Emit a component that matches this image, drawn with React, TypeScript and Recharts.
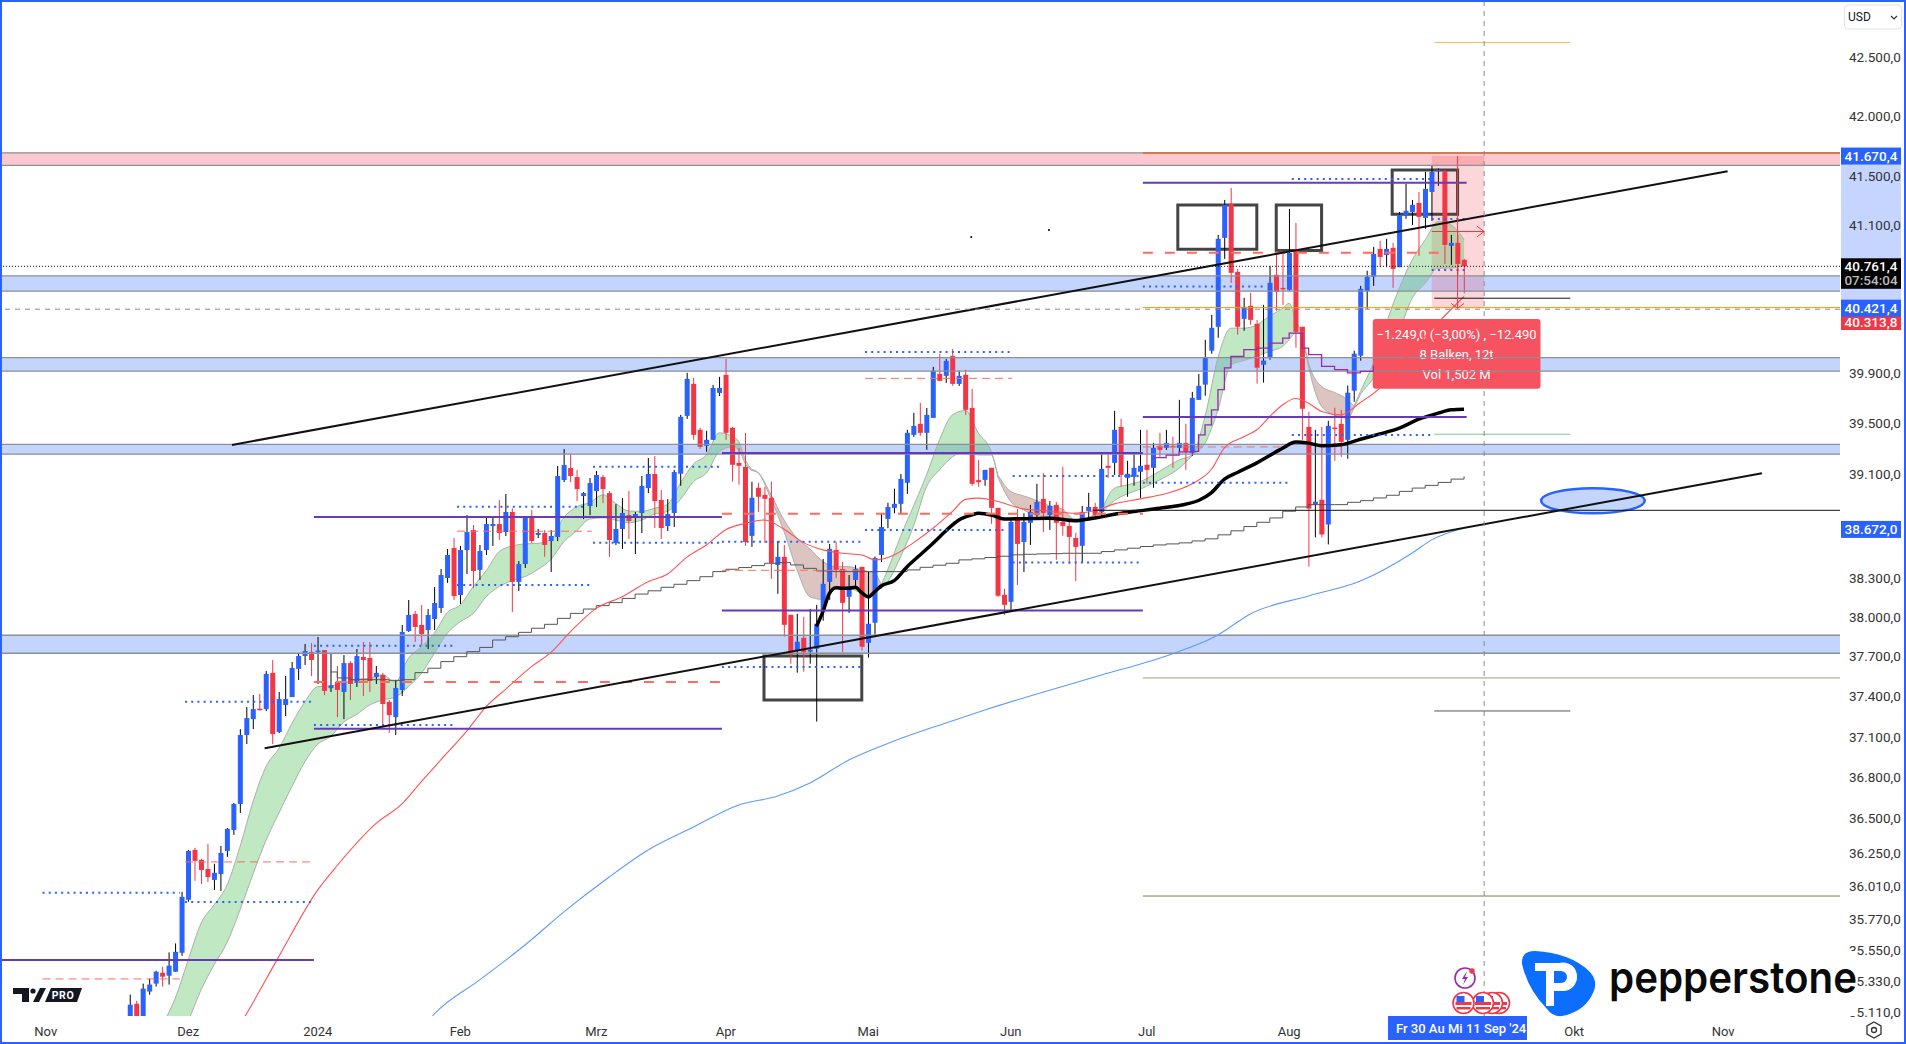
import React from 'react';
import {
  ComposedChart, XAxis, YAxis, Bar, Line, Area, ReferenceLine, ReferenceArea, ReferenceDot,
} from 'recharts';

// ---- candles (index 0 .. 206, daily bars) ----
const opens = [34920,35172,35060,35258,35314,35391,35370,35398,35532,35911,36271,36199,36133,36054,36096,36264,36416,36606,37114,37232,37310,37307,37578,37136,37337,37397,37608,37705,37736,37738,37750,37463,37510,37435,37652,37503,37698,37690,37547,37563,37360,37247,37450,37894,38023,37940,37902,37985,38069,38298,38528,38168,38513,38667,38360,38513,38698,38714,38652,38807,38268,38405,38768,38629,38644,38582,38613,39056,39150,39079,38931,38853,38970,39079,38954,38567,38675,38783,38760,38799,38993,39103,38900,38698,38799,39105,39560,39814,39450,39324,39371,39742,39886,39466,39190,39159,38622,38995,38940,38917,38398,38460,38017,37745,37843,37738,37760,38055,38268,38514,38367,38154,38283,38383,37805,37957,38475,38753,38839,38870,39034,39410,39497,39426,39544,39894,39878,40038,39814,39886,39623,39055,39057,39151,38839,38169,38116,38745,38575,38723,38784,38909,38784,38862,38730,38699,38606,38545,38815,38846,38808,39167,39190,39473,39073,39081,39120,39175,39151,39324,39308,39324,39308,39347,39268,39687,39808,40079,40271,40994,41274,40716,40335,40440,40295,39967,40023,40692,40586,40570,40903,40271,39473,38864,38902,38710,39468,39497,39371,39760,40039,40562,40676,40903,40854,40912,40754,41175,41207,41281,41158,41372,41546,41546,40928,40953,40814];
const closes = [35165,34950,35279,35307,35398,35363,35441,35539,35932,36264,36192,36126,36074,36105,36249,36424,36606,37114,37240,37307,37300,37570,37121,37382,37382,37615,37705,37743,37675,37746,37443,37485,37450,37652,37495,37705,37675,37517,37578,37345,37262,37465,37887,38016,37925,37871,38016,38107,38321,38475,38160,38513,38652,38352,38505,38714,38714,38644,38807,38268,38405,38760,38582,38644,38552,38621,39087,39173,39087,38985,38954,39032,39095,38985,38590,38675,38799,38737,38791,39009,39103,38892,38683,38791,39118,39552,39854,39410,39316,39371,39782,39782,39426,39175,39167,38575,38917,38925,38909,38414,38460,37941,37715,37813,37733,37753,37949,38253,38522,38360,38108,38237,38367,37775,37949,38452,38691,38846,38870,39065,39426,39481,39426,39568,39918,39838,39998,39814,39878,39608,39026,39039,39135,38839,38162,38093,38730,38560,38730,38808,38885,38800,38854,38723,38699,38614,38537,38808,38846,38784,39143,39151,39450,39096,39104,39151,39167,39135,39308,39292,39347,39316,39347,39277,39703,39798,40023,40263,40986,41265,40708,40271,40432,40327,39943,40000,40627,40554,40578,40870,40231,39616,38833,38887,38633,39481,39460,39355,39744,40055,40578,40676,40862,40838,40903,40740,41183,41216,41265,41166,41397,41538,41555,40936,40953,40781,40761];
const highs = [35236,35193,35314,35349,35405,35433,35535,35599,35968,36271,36286,36206,36315,36170,36300,36431,36613,37158,37322,37412,37420,37593,37675,37435,37555,37660,37728,37796,37803,37849,37750,37720,37630,37712,37667,37758,37811,37811,37630,37578,37375,37525,37940,38130,38046,38092,38061,38229,38367,38521,38605,38544,38783,38706,38552,38768,38760,38900,38947,38835,38428,38776,38822,38675,38667,38667,39165,39299,39260,39134,38962,39071,39126,39095,38970,38868,38915,38970,38807,39087,39228,39244,38978,38907,39134,39568,39902,39862,39466,39442,39806,39870,40014,39473,39308,39426,39042,39034,39003,39042,38583,38552,38017,38025,38002,38062,38093,38444,38560,38575,38421,38321,38398,38385,38344,38462,38792,38878,38988,39104,39450,39584,39663,39623,39950,40054,40014,40094,39918,39926,39774,39213,39135,39151,38839,38215,38745,38831,38797,38862,39026,39112,38893,38885,39159,38738,38645,38854,38956,38878,39268,39268,39600,39537,39206,39268,39450,39450,39347,39426,39450,39395,39687,39497,39750,39894,40167,40367,41018,41306,41405,40740,40505,40546,40327,40448,40765,40887,40862,41232,41117,40271,39592,39450,39473,39521,39624,39608,39800,40079,40602,40725,40920,40969,40986,40953,41207,41439,41306,41372,41538,41596,41566,41555,41018,41018,40822];
const lows = [34900,34920,35040,35236,35293,35293,35307,35398,35511,35897,36047,36025,36039,35982,35975,36220,36380,36540,37047,37158,37295,37292,37047,37129,37255,37397,37525,37638,37555,37495,37412,37435,37247,37232,37375,37472,37405,37435,37495,37195,37129,37114,37405,37887,37811,37788,37758,37902,38031,38260,38130,38099,38329,38222,38283,38475,38544,38590,38621,38038,38199,38375,38567,38605,38460,38344,38582,39040,39040,38892,38752,38783,38845,38876,38460,38552,38521,38598,38482,38644,38954,38683,38598,38660,38691,39011,39537,39371,39300,39277,39371,39718,39371,39042,39019,38545,38537,38808,38568,38291,38177,37851,37647,37580,37587,37647,37214,37972,38131,38298,37733,38032,38219,37745,37693,37866,38421,38681,38797,38797,38948,39395,39403,39292,39544,39838,39822,39798,39798,39568,39011,39003,39011,38715,38154,38017,38047,38245,38344,38552,38745,38652,38668,38437,38622,38406,38275,38421,38745,38776,38776,39070,39096,39003,38925,39011,38917,39026,38995,39237,39292,39151,39277,39135,39245,39687,39720,40055,40183,40822,40627,40207,40239,40287,39816,39824,40007,40400,40448,40562,40103,39371,38386,38610,38610,38556,39206,39237,39222,39672,39999,40416,40602,40757,40754,40586,40754,41150,41100,40846,41068,41133,41422,40781,40773,40692,40543];

// ---- moving averages, read at sampled bars ----
const redIdx = [15,18,23,29,32,38,42,45,48,52,55,58,62,65,68,72,76,80,83,86,89,92,95,98,101,104,107,110,113,115,118,121,124,127,129,131,134,138,142,146,149,152,156,160,164,167,169,172,174,176,178,180,182,184,187,190,193,196,200,206];
const redVal = [34880,35102,35507,35982,36158,36464,36606,36770,36930,37143,37325,37455,37625,37733,37888,38066,38155,38270,38329,38458,38552,38670,38719,38745,38673,38570,38514,38488,38475,38437,38475,38570,38681,38811,38905,38915,38888,38831,38815,38797,38818,38870,38909,38950,39026,39140,39308,39395,39450,39555,39648,39698,39660,39595,39568,39666,39781,39954,40194,40516];
const greyIdx = [31,32,34,36,38,40,42,44,46,48,50,52,54,56,58,60,62,64,66,68,70,72,74,76,78,80,82,84,86,88,90,92,94,96,98,100,102,104,106,108,110,112,114,116,118,120,122,124,126,128,130,132,134,136,138,140,142,144,146,148,150,152,154,156,158,160,162,164,166,168,170,172,174,176,178,180,182,184,186,188,190,192,194,196,198,200,202,204,206];
const greyVal = [37585,37540,37527,37527,37527,37522,37527,37580,37613,37663,37700,37738,37770,37826,37851,37884,37915,37945,37990,38028,38061,38087,38110,38142,38175,38200,38227,38250,38278,38308,38347,38365,38378,38393,38411,38416,38398,38372,38352,38347,38347,38347,38347,38347,38347,38360,38380,38396,38411,38437,38445,38455,38465,38476,38480,38483,38485,38488,38488,38488,38501,38514,38527,38540,38552,38560,38568,38583,38599,38630,38661,38694,38727,38761,38813,38846,38864,38864,38864,38882,38895,38916,38937,38967,38993,39014,39037,39063,39085];
const blueIdx = [40,47,54,61,67,74,80,87,94,100,105,111,118,126,132,139,150,160,168,173,182,190,198,201,206];
const blueVal = [34640,35100,35340,35588,35824,36075,36270,36437,36598,36664,36760,36929,37070,37204,37300,37405,37562,37706,37864,38024,38161,38275,38490,38591,38683];
const blackIdx = [106,107,108,109,110,111,112,113,114,115,116,118,120,122,124,126,128,130,131,133,135,138,142,146,149,152,155,159,163,165,167,169,171,174,176,178,180,182,184,187,190,193,196,199,202,204,206];
const blackVal = [37929,38042,38180,38224,38219,38219,38227,38185,38154,38193,38237,38278,38385,38475,38565,38662,38745,38784,38797,38784,38753,38755,38758,38740,38760,38789,38810,38836,38867,38896,38958,39063,39115,39190,39248,39306,39353,39345,39324,39332,39376,39418,39463,39534,39582,39608,39613];
const purpleIdx = [158,160,162,164,165,166,167,168,169,170,172,174,176,178,179,180,181,182,184,186,188,190,192];
const purpleVal = [39231,39250,39277,39280,39410,39489,39608,39768,39941,40034,40087,40100,40140,40180,40220,40220,40100,40047,39954,39928,39901,39914,39960];

// ---- ribbon ----
const ribbonIdx = [5,7,9,11,13,15,17,19,21,23,25,27,29,31,33,35,37,39,41,43,45,47,49,51,53,55,57,59,61,63,65,67,69,71,73,75,77,79,81,83,85,87,89,91,93,94,95,96,97,99,101,103,105,107,109,111,113,114,115,116,117,119,121,123,125,127,129,131,133,134,136,138,140,142,144,146,148,150,152,154,156,158,160,162,164,166,168,170,172,174,176,178,179,180,181,182,184,186,188,189,190,192,194,196,198,200,202,204,206];
const ribbonHi = [35025,35212,35483,35745,35875,36018,36296,36622,36880,37015,37200,37360,37475,37480,37500,37530,37537,37563,37510,37688,37775,37877,38035,38092,38232,38354,38500,38544,38560,38565,38595,38765,38848,38880,38940,38874,38815,38812,38835,38866,39032,39180,39252,39426,39397,39358,39215,39140,39115,38940,38745,38604,38520,38424,38385,38385,38360,38347,38334,38245,38360,38619,38854,39096,39371,39568,39603,39425,39277,39096,38966,38932,38896,38854,38828,38745,38766,38810,38991,39018,39044,39096,39156,39213,39252,39555,40023,40260,40260,40287,40359,40420,40461,40327,40220,39981,39794,39746,39688,39635,39754,39981,40300,40584,40814,40977,41128,41100,40980];
const ribbonLo = [34590,34850,35050,35272,35448,35606,35840,36096,36340,36540,36733,36915,37047,37104,37210,37267,37337,37375,37397,37475,37575,37725,37877,37965,38028,38155,38232,38278,38309,38364,38441,38577,38662,38752,38762,38744,38724,38744,38791,38812,38905,39043,39110,39277,39316,39292,39185,39130,39110,38905,38655,38360,38154,38134,38219,38219,38177,38154,38205,38219,38270,38462,38700,39003,39135,39237,39277,39252,39252,39078,38888,38823,38779,38771,38763,38725,38750,38797,38895,38948,38984,39032,39083,39148,39245,39344,39608,39967,40000,40034,40074,40114,40167,40220,40215,39950,39635,39568,39542,39622,39728,39861,40087,40247,40503,40624,40746,40746,40773];
const ribbonBreaks = [96,116,134,150,181,189];

// ---- levels (bar index range and price) ----
const zoneLow = [40559,39915,39258,37726];
const zoneHigh = [40683,40023,39336,37862];
const solidPurple = [[-20.07,28.4,35481],[28.4,91.4,37161],[28.4,91.4,38769],[91.4,156.4,38049],[91.4,156.4,39268],[156.4,206.4,39552],[156.4,206.4,41449]];
const dottedBlue = [[-13.5,7.7,35962],[8.5,28.4,35895],[8.5,28.4,37362],[28.4,49.8,37783],[28.4,49.8,37188],[50.5,70.2,38848],[50.5,71.3,38245],[71.5,91.3,39160],[71.5,91.3,38568],[91.4,113,38577],[91.4,113,37622],[113.5,136.2,40069],[113.5,135.2,38668],[136.3,156.4,39087],[136.3,156.4,38416],[156.4,179,39035],[156.4,175.4,40596],[179.4,201,39409],[179.4,201,41480],[201,206.4,41149],[201,206.4,40732]];
const thinRed = [[-13.5,7.7,35347],[8.5,28.4,36184],[50.5,71.3,38658],[91.4,113,38357],[113.5,136.2,39858],[156.4,178,39315]];
const thickRed = [[28.4,91.4,37510],[91.4,156.4,38794],[156.4,203,40872]];
const fibLines = [[201.4,222.4,42628,'#ffb74d'],[201.4,222.4,40502,'#111111'],[201.4,222.4,39415,'#81c784'],[201.4,222.4,37293,'#555555'],[156.4,264.05,37540,'#9a9f7a'],[156.4,264.05,35938,'#7c8046'],[148.7,264.05,38820,'#111111'],[156.4,264.05,40426,'#ff9800'],[156.4,264.05,41695,'#e65100']];
const trendLines = [[15.75,39331,246.7,41543],[20.8,37016,252,39109]];
const boxes = [[97.9,113,37375,37706],[161.8,174,40900,41265],[177,184,40890,41265],[194.9,205,41188,41554]];

// ---- axes ----
const xTicks = [-13,9,29,51,72,92,114,136,157,179,223,246];
const xLabels = ['Nov','Dez','2024','Feb','Mrz','Apr','Mai','Jun','Jul','Aug','Okt','Nov'];
const yTicks = [42500,42000,41500,41100,39900,39500,39100,38300,38000,37700,37400,37100,36800,36500,36250,36010,35770,35550,35330,35110];
const tooltipLines = ['−1.249,0 (−3,00%) , −12.490','8 Balken, 12t','Vol 1,502 M'];

const rows: any[] = opens.map((o, i) => ({ i, o, c: closes[i], h: highs[i], l: lows[i], range: [lows[i], highs[i]] }));
const put = (key: string, idx: number[], vals: number[]) => idx.forEach((ix, k) => { rows[ix][key] = vals[k]; });
put('red', redIdx, redVal);
put('grey', greyIdx, greyVal);
put('blue', blueIdx, blueVal);
put('black', blackIdx, blackVal);
put('purple', purpleIdx, purpleVal);
const edges = [5, ...ribbonBreaks, 206];
ribbonIdx.forEach((ix, k) => {
  edges.slice(0, -1).forEach((e, seg) => {
    if (ix >= e && ix <= edges[seg + 1]) rows[ix]['rib' + seg] = [ribbonLo[k], ribbonHi[k]];
  });
});

const fmt = (v: number) => v.toLocaleString('de-DE', { minimumFractionDigits: 1, maximumFractionDigits: 1 });
const FONT = 'Roboto, sans-serif';

const Candle = (props: any) => {
  const { x, y, width, height, payload } = props;
  const top = Math.min(y, y + height);
  const span = Math.abs(height);
  const at = (p: number) => top + (span * (Math.log(payload.h) - Math.log(p))) / (Math.log(payload.h) - Math.log(payload.l));
  const up = payload.c >= payload.o;
  const bodyTop = at(Math.max(payload.o, payload.c));
  const bodyBot = at(Math.min(payload.o, payload.c));
  const cx = x + width / 2;
  return (
    <g>
      <line x1={cx} x2={cx} y1={top} y2={top + span} stroke={up ? '#000' : '#f23645'} strokeWidth={1} />
      <rect x={x} y={bodyTop} width={width} height={Math.max(bodyBot - bodyTop, 1.5)} fill={up ? '#2962ff' : '#f23645'} />
    </g>
  );
};

const tag = (text: string, bg: string, sub?: string) => (props: any) => {
  const vb = props.viewBox;
  const x = vb.x + vb.width + 1;
  const y = vb.y;
  return (
    <g>
      <rect x={x} y={sub ? y - 8 : y - 8.5} width={60} height={sub ? 30.5 : 17} fill={bg} />
      <text x={x + 30} y={y + 5} textAnchor="middle" fontFamily={FONT} fontSize={13.5} fontWeight={500} fill="#fff">{text}</text>
      {sub && <text x={x + 30} y={y + 19} textAnchor="middle" fontFamily={FONT} fontSize={13.5} fontWeight={500} fill="#bbb">{sub}</text>}
    </g>
  );
};

const AxisBand = (props: any) => (
  <rect x={props.x + props.width + 1} y={props.y} width={60} height={props.height} fill="rgba(41,98,255,0.27)" />
);
const Ellipse = (props: any) => (
  <ellipse cx={props.x + props.width / 2} cy={props.y + props.height / 2} rx={props.width / 2} ry={props.height / 2} fill="#c4d5fd" stroke="#2962ff" strokeWidth={2.5} />
);
const TooltipBox = (props: any) => (
  <g>
    <rect x={props.x} y={props.y} width={props.width} height={props.height} rx={3} fill="#f7525f" />
    {tooltipLines.map((t, k) => (
      <text key={k} x={props.x + props.width / 2} y={props.y + 20 + k * 20} textAnchor="middle" fontFamily={FONT} fontSize={13} fill="#fff">{t}</text>
    ))}
  </g>
);

const seg = (a: number, b: number, y: number) => [{ x: a, y }, { x: b, y }] as any;

export default function App() {
  return (
    <div style={{ position: 'absolute', left: 0, top: 0, width: 1906, height: 1044, background: '#fff', overflow: 'hidden' }}>
      <ComposedChart width={1906} height={1044} data={rows} margin={{ top: 0, right: 0, bottom: 0, left: 0 }}>
        <XAxis dataKey="i" type="number" domain={[-20.07, 264.05]} ticks={xTicks} interval={0} height={28}
          axisLine={false} tickLine={false} tickMargin={5}
          tick={{ fontFamily: FONT, fontSize: 13, fill: '#333' }}
          tickFormatter={(v: number) => xLabels[xTicks.indexOf(v)]} />
        <YAxis orientation="right" scale="log" type="number" domain={[35086, 42991]} allowDataOverflow ticks={yTicks} interval={0} width={66}
          axisLine={false} tickLine={false} tickMargin={3}
          tick={{ fontFamily: FONT, fontSize: 13.5, fill: '#333' }} tickFormatter={fmt} />

        <ReferenceArea y1={41592} y2={41697} fill="#fdc9ce" fillOpacity={1} stroke="none" />
        {zoneLow.map((lo, k) => (
          <ReferenceArea key={'z' + k} y1={lo} y2={zoneHigh[k]} fill="#c4d5fd" fillOpacity={1} stroke="none" />
        ))}
        {[41592, 41697, ...zoneLow, ...zoneHigh].map((y) => (
          <ReferenceLine key={'zl' + y} y={y} stroke="#8a8f98" strokeWidth={1.3} />
        ))}
        <ReferenceArea x1={201} x2={209.1} y1={40421} y2={41670} fill="#f23645" fillOpacity={0.2} stroke="none" />
        <ReferenceArea x1={217.9} x2={233.9} y1={38797} y2={38992} shape={Ellipse} />

        {edges.slice(0, -1).map((_, k) => (
          <Area key={'rib' + k} type="monotone" dataKey={'rib' + k} connectNulls isAnimationActive={false} dot={false} activeDot={false} legendType="none"
            fill={k % 2 === 0 ? '#4fc05a' : '#8c3a30'} fillOpacity={k % 2 === 0 ? 0.36 : 0.3} stroke="#a9b0a9" strokeWidth={1} />
        ))}
        <Line dataKey="blue" type="monotone" connectNulls dot={false} activeDot={false} isAnimationActive={false} stroke="#5b9cf6" strokeWidth={1.1} />
        <Line dataKey="grey" type="stepAfter" connectNulls dot={false} activeDot={false} isAnimationActive={false} stroke="#555" strokeWidth={1} />
        <Line dataKey="red" type="monotone" connectNulls dot={false} activeDot={false} isAnimationActive={false} stroke="#ff5252" strokeWidth={1.1} />
        <Line dataKey="purple" type="stepAfter" connectNulls dot={false} activeDot={false} isAnimationActive={false} stroke="#9c27b0" strokeWidth={1.3} />
        <Line dataKey="black" type="monotone" connectNulls dot={false} activeDot={false} isAnimationActive={false} stroke="#000" strokeWidth={3.5} />

        <Bar dataKey="range" barSize={5} isAnimationActive={false} shape={Candle} />

        {solidPurple.map(([a, b, y], k) => <ReferenceLine key={'p' + k} segment={seg(a, b, y)} stroke="#673ab7" strokeWidth={2} />)}
        {dottedBlue.map(([a, b, y], k) => <ReferenceLine key={'d' + k} segment={seg(a, b, y)} stroke="#2962ff" strokeWidth={2} strokeDasharray="2 4.2" />)}
        {thinRed.map(([a, b, y], k) => <ReferenceLine key={'r' + k} segment={seg(a, b, y)} stroke="#ff6b5e" strokeWidth={1} strokeDasharray="8 5" />)}
        {thickRed.map(([a, b, y], k) => <ReferenceLine key={'t' + k} segment={seg(a, b, y)} stroke="#ff6b5e" strokeWidth={2} strokeDasharray="10 12" />)}
        {fibLines.map(([a, b, y, c]: any, k) => <ReferenceLine key={'f' + k} segment={seg(a, b, y)} stroke={c} strokeWidth={1} />)}
        {trendLines.map(([a, y1, b, y2], k) => (
          <ReferenceLine key={'tr' + k} segment={[{ x: a, y: y1 }, { x: b, y: y2 }]} stroke="#111" strokeWidth={2} />
        ))}
        {boxes.map(([a, b, lo, hi], k) => (
          <ReferenceArea key={'b' + k} x1={a} x2={b} y1={lo} y2={hi} fill="none" stroke="#444" strokeWidth={3} />
        ))}
        <ReferenceDot x={129.9} y={41001} r={1} fill="#000" stroke="none" />
        <ReferenceDot x={141.9} y={41059} r={1} fill="#000" stroke="none" />

        <ReferenceLine x={209.1} stroke="#8a8a8a" strokeWidth={1} strokeDasharray="5 5" />
        <ReferenceLine y={40413} stroke="#8a8a8a" strokeWidth={1} strokeDasharray="5 5" />
        <ReferenceLine y={40761} stroke="#111" strokeWidth={1} strokeDasharray="1 2" />

        <ReferenceLine segment={[{ x: 205, y: 41670 }, { x: 205, y: 40421 }]} stroke="#f23645" strokeWidth={1} />
        <ReferenceLine segment={[{ x: 204, y: 40460 }, { x: 205, y: 40421 }]} stroke="#f23645" strokeWidth={1} />
        <ReferenceLine segment={[{ x: 206, y: 40460 }, { x: 205, y: 40421 }]} stroke="#f23645" strokeWidth={1} />
        <ReferenceLine segment={[{ x: 201, y: 41046 }, { x: 209.1, y: 41046 }]} stroke="#f23645" strokeWidth={1} />
        <ReferenceLine segment={[{ x: 208, y: 41090 }, { x: 209.1, y: 41046 }]} stroke="#f23645" strokeWidth={1} />
        <ReferenceLine segment={[{ x: 208, y: 41002 }, { x: 209.1, y: 41046 }]} stroke="#f23645" strokeWidth={1} />

        <ReferenceArea x1={191.9} x2={217.8} y1={39776} y2={40334} shape={TooltipBox} />

        <ReferenceArea y1={40480} y2={41660} shape={AxisBand} />
        <ReferenceLine y={41670} stroke="none" label={tag('41.670,4', '#2962ff')} />
        <ReferenceLine y={40313.8} stroke="none" label={tag('40.313,8', '#f23645')} />
        <ReferenceLine y={40421.4} stroke="none" label={tag('40.421,4', '#2962ff')} />
        <ReferenceLine y={40761.4} stroke="none" label={tag('40.761,4', '#000', '07:54:04')} />
        <ReferenceLine y={38672} stroke="none" label={tag('38.672,0', '#2962ff')} />
      </ComposedChart>

      <svg width={1906} height={1044} style={{ position: 'absolute', left: 0, top: 0, pointerEvents: 'none' }}>
        {/* hovered date tags */}
        <rect x={1388} y={1016} width={139} height={24} fill="#2962ff" />
        <text x={1396} y={1033} fontFamily={FONT} fontSize={13} fontWeight={500} fill="#fff">Fr 30 Au</text>
        <text x={1448} y={1033} fontFamily={FONT} fontSize={13} fontWeight={500} fill="#fff">Mi 11 Sep '24</text>
        {/* settings */}
        <path d="M1874 1022l7 4v8l-7 4-7-4v-8z" fill="none" stroke="#333" strokeWidth={1.3} />
        <circle cx={1874} cy={1030} r={2.5} fill="none" stroke="#333" strokeWidth={1.3} />
        {/* USD */}
        <rect x={1844.5} y={5} width={57} height={24} rx={4} fill="#fff" stroke="#e0e3eb" />
        <text x={1848} y={21} fontFamily={FONT} fontSize={12} fill="#131722">USD</text>
        <path d="M1891 16l3 3 3-3" fill="none" stroke="#333" strokeWidth={1.2} />
        {/* TV PRO */}
        <path d="M13 988h16v14h-7v-8h-9z" fill="#131722" />
        <circle cx={33} cy={991} r={2.6} fill="#131722" />
        <path d="M40 988h6l-7 14h-6z" fill="#131722" />
        <path d="M51 988h31l-5 14h-32z" fill="#131722" />
        <text x={63} y={999} textAnchor="middle" fontFamily={FONT} fontSize={10.5} fontWeight={700} fill="#fff" letterSpacing={0.6}>PRO</text>
        {/* events */}
        <circle cx={1465} cy={978} r={10} fill="#fff" stroke="#9c27b0" strokeWidth={1.6} />
        <path d="M1467 971l-5 8h3l-2 6 5-8h-3z" fill="#9c27b0" />
        <circle cx={1472} cy={971} r={2.7} fill="#f23645" />
        {[1499, 1492, 1483, 1463.5].map((cx) => (
          <g key={cx}>
            <circle cx={cx} cy={1003} r={10.5} fill="#fff" stroke="#f23645" strokeWidth={1.6} />
            <rect x={cx - 8} y={1002} width={16} height={3} fill="#f23645" />
            <rect x={cx - 7} y={1007} width={14} height={2.4} fill="#f23645" />
            <rect x={cx - 7} y={996} width={8} height={6} fill="#2962ff" />
          </g>
        ))}
        {/* pepperstone */}
        <rect x={1600} y={951} width={257} height={65} fill="#fff" />
        <path d="M1522 964Q1521 951 1535 951Q1570 953 1589 971Q1599 981 1593 993Q1586 1009 1567 1015Q1554 1019 1547 1009Q1528 990 1522 964Z" fill="#0c6eff" />
        <path d="M1535 963h24a14 14 0 0 1 18 14a14 14 0 0 1 -14 14h-9v15h-8v-35h-11z" fill="#fff" />
        <path d="M1554 971h7a6 6 0 0 1 0 12h-7z" fill="#0c6eff" />
        <text x={1609} y={993} fontFamily="Inter, sans-serif" fontSize={43} fontWeight={600} fill="#0a0a0a" textLength={248} lengthAdjust="spacingAndGlyphs">pepperstone</text>
      </svg>
      <div style={{ position: 'absolute', left: 0, top: 0, width: 1906, height: 1044, boxSizing: 'border-box', border: '2px solid #2962ff', pointerEvents: 'none' }} />
    </div>
  );
}
